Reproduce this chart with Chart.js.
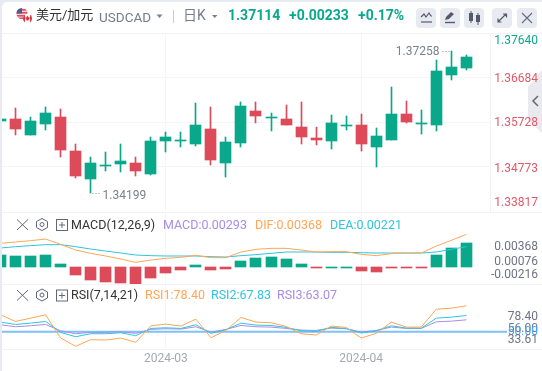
<!DOCTYPE html>
<html lang="zh">
<head>
<meta charset="utf-8">
<title>USDCAD</title>
<script src="https://cdn.jsdelivr.net/npm/chart.js@4/dist/chart.umd.min.js"></script>
<style>
html,body{margin:0;padding:0;background:#e8eaf1;width:542px;height:371px;overflow:hidden}
body{font-family:Roboto,"Noto Sans CJK SC",sans-serif;position:relative}
#card{position:absolute;left:2px;top:2px;width:542px;height:371px;background:#fff;border-top-left-radius:5px}
canvas{position:absolute;left:2px}
.t{position:absolute;white-space:nowrap;line-height:16px;height:16px}
.hl{position:absolute;left:2px;right:0;height:1px;background:#f2f3f6}
.btn{position:absolute;top:8px;width:20px;height:20px;border-radius:4px;background:#e8eaf1}
svg{position:absolute;overflow:visible}
</style>
</head>
<body>
<div id="card"></div>
<svg style="left:0;top:0" width="542" height="371">
  <path d="M542 70L528 87V120L542 133z" fill="#e9eaf0"/>
  <path d="M538 96l-5 5 5 5" fill="none" stroke="#62667a" stroke-width="1.500"/>
</svg>
<canvas id="main" width="540" height="180" style="top:33px;width:540px;height:180px"></canvas>
<canvas id="macd" width="540" height="72" style="top:212px;width:540px;height:72px"></canvas>
<canvas id="rsi" width="540" height="87" style="top:284px;width:540px;height:87px"></canvas>
<div class="hl" style="top:33px"></div>
<div class="hl" style="top:212px"></div>
<div class="hl" style="top:284px"></div>
<div class="hl" style="top:349px"></div>

<svg style="left:0;top:0" width="542" height="34">
  <defs><clipPath id="us"><circle cx="22" cy="13.5" r="5.5"/></clipPath><clipPath id="ca"><circle cx="27.5" cy="18.5" r="4.5"/></clipPath></defs>
  <g clip-path="url(#us)"><rect x="16" y="8" width="12" height="12" fill="#f3d6d8"/><rect x="16" y="9" width="12" height="1.6" fill="#d9505c"/><rect x="16" y="12" width="12" height="1.6" fill="#d9505c"/><rect x="16" y="15" width="12" height="1.6" fill="#d9505c"/><rect x="16" y="17.5" width="12" height="1.6" fill="#d9505c"/><rect x="16" y="8" width="6" height="5.5" fill="#4f5b93"/></g>
  <g clip-path="url(#ca)"><rect x="23" y="14" width="10" height="10" fill="#fff"/><rect x="23" y="14" width="2" height="10" fill="#e0323c"/><rect x="30" y="14" width="2" height="10" fill="#e0323c"/><path d="M27.5 15.5l1.2 2 1-.3-.4 2-.8.3v1h-2v-1l-.8-.3-.4-2 1 .3z" fill="#e0323c"/></g>
  <path d="M156.5 14.5h6l-3 3.5z" fill="#7b7f8e"/>
  <rect x="173" y="10" width="1" height="13" fill="#c9ccd6"/>
  <path d="M212 15h5.500l-2.750 3z" fill="#7b7f8e"/>
</svg>
<span class="t" style="left:36px;top:7px;font-size:13px;color:#333">美元/加元</span>
<span class="t" style="left:99px;top:9px;font-size:13.500px;color:#777b8c">USDCAD</span>
<span class="t" style="left:183px;top:7px;font-size:14px;color:#777b8c">日K</span>
<span class="t" style="left:228px;top:7px;font-size:14px;font-weight:700;color:#0aa88b">1.37114</span>
<span class="t" style="left:289px;top:7px;font-size:14px;font-weight:700;color:#0aa88b">+0.00233</span>
<span class="t" style="left:358px;top:7px;font-size:14px;font-weight:700;color:#0aa88b">+0.17%</span>

<div class="btn" style="left:416px"></div>
<div class="btn" style="left:440px"></div>
<div class="btn" style="left:464px"></div>
<div class="btn" style="left:492px"></div>
<div class="btn" style="left:517px"></div>
<svg style="left:0;top:0" width="542" height="34" fill="none" stroke="#555a6b">
  <path d="M421 17l3-3 2 3 3-4 2 3h1" stroke-width="1.2"/><path d="M421 22h11" stroke-width="1.2"/>
  <path d="M445 20l1-3 5-5 3 2-5 5z" fill="#555a6b" stroke="none"/><path d="M445 22.500h10" stroke-width="1.4"/>
  <g fill="#555a6b" stroke="none"><rect x="469" y="13" width="4" height="8"/><rect x="470.500" y="11" width="1" height="12"/><rect x="476" y="15" width="4" height="7"/><rect x="477.500" y="13" width="1" height="12"/></g>
  <path d="M498 22l8-8M503 14h3.500v3.500M498 18.500v3.500h3.500" stroke-width="1.2"/>
  <path d="M522 13l10 10M532 13l-10 10" stroke-width="1.2" stroke="#6a6e7e"/>
</svg>

<svg style="left:0;top:0" width="542" height="371" fill="none" stroke="#62667a" stroke-width="1">
  <path d="M17 219.500l11 10.500M28 219.500l-11 10.500"/>
  <path d="M42 218.500l5.500 3v6l-5.500 3-5.500-3v-6z"/><circle cx="42" cy="224.500" r="2"/>
  <rect x="56.500" y="219.500" width="11" height="11"/><path d="M59 225h6M62 222v6"/>
  <path d="M17 290l11 10.500M28 290l-11 10.500"/>
  <path d="M42 289l5.500 3v6l-5.500 3-5.500-3v-6z"/><circle cx="42" cy="295" r="2"/>
  <rect x="56.500" y="290" width="11" height="11"/><path d="M59 295.500h6M62 292.500v6"/>
</svg>
<span class="t" style="left:71px;top:217px;font-size:12.500px;color:#333">MACD(12,26,9)</span>
<span class="t" style="left:163px;top:217px;font-size:12.500px;color:#a98ce8">MACD:0.00293</span>
<span class="t" style="left:255px;top:217px;font-size:12.500px;color:#ffa657">DIF:0.00368</span>
<span class="t" style="left:330px;top:217px;font-size:12.500px;color:#2ec5e0">DEA:0.00221</span>
<span class="t" style="left:71px;top:287px;font-size:12.500px;color:#333">RSI(7,14,21)</span>
<span class="t" style="left:145px;top:287px;font-size:12.500px;color:#ffa657">RSI1:78.40</span>
<span class="t" style="left:211px;top:287px;font-size:12.500px;color:#2ec5e0">RSI2:67.83</span>
<span class="t" style="left:277px;top:287px;font-size:12.500px;color:#a98ce8">RSI3:63.07</span>

<script>
// Candles, index 0..31
const opens  = [1.35757,1.35793,1.35456,1.35692,1.35836,1.35105,1.34511,1.34783,1.34833,1.34847,1.34618,1.35327,1.35320,1.35263,1.35578,1.34855,1.35284,1.35965,1.35821,1.35793,1.35621,1.35385,1.35327,1.35650,1.35664,1.35198,1.35349,1.35900,1.35692,1.35671,1.36745,1.36889];
const highs  = [1.35793,1.36029,1.35836,1.36051,1.36007,1.35256,1.34977,1.35084,1.35256,1.34977,1.35406,1.35513,1.35513,1.36136,1.36051,1.35406,1.36158,1.36158,1.35922,1.36093,1.36158,1.35621,1.35879,1.35857,1.35900,1.35599,1.36480,1.36180,1.35986,1.37060,1.37258,1.37168];
const lows   = [1.35757,1.35456,1.35456,1.35564,1.34984,1.34532,1.34199,1.34676,1.34661,1.34575,1.34597,1.35091,1.35198,1.35220,1.34812,1.34554,1.35198,1.35714,1.35542,1.35664,1.35263,1.35241,1.35155,1.35564,1.35113,1.34769,1.35349,1.35714,1.35478,1.35542,1.36631,1.36845];
const closes = [1.35793,1.35585,1.35750,1.35922,1.35134,1.34575,1.34847,1.34805,1.34891,1.34683,1.35320,1.35406,1.35342,1.35664,1.34919,1.35299,1.36072,1.35864,1.35836,1.35664,1.35413,1.35349,1.35707,1.35664,1.35263,1.35428,1.35900,1.35735,1.35707,1.36824,1.36910,1.37125];

const macdHist = [0.00144,0.00136,0.00136,0.00144,0.00036,-0.00096,-0.00156,-0.00180,-0.00192,-0.00204,-0.00132,-0.00072,-0.00036,0.00024,-0.00036,-0.00020,0.00072,0.00108,0.00120,0.00096,0.00036,-0.00008,0.00006,0.00006,-0.00048,-0.00060,-0.00008,-0.00008,-0.00008,0.00144,0.00228,0.00293];
const dif = [0.00284,0.00300,0.00316,0.00336,0.00272,0.00204,0.00164,0.00132,0.00096,0.00056,0.00084,0.00104,0.00116,0.00140,0.00112,0.00112,0.00180,0.00212,0.00224,0.00224,0.00204,0.00180,0.00184,0.00184,0.00152,0.00136,0.00160,0.00168,0.00168,0.00252,0.00320,0.00392];
const dea = [0.00228,0.00244,0.00256,0.00268,0.00268,0.00244,0.00216,0.00192,0.00168,0.00144,0.00136,0.00132,0.00132,0.00132,0.00124,0.00120,0.00136,0.00148,0.00164,0.00180,0.00180,0.00180,0.00176,0.00176,0.00172,0.00168,0.00168,0.00168,0.00168,0.00180,0.00212,0.00244];

const rsi1 = [68.53,61.27,64.90,68.53,43.10,34.02,41.28,40.92,43.10,38.38,56.55,58.36,56.18,63.81,43.47,51.46,65.63,60.54,59.81,55.82,47.83,46.37,56.18,54.73,43.10,48.19,60.54,55.09,55.09,74.71,75.80,78.40];
const rsi2 = [60.54,58.00,59.45,61.27,49.28,44.56,47.83,47.83,48.92,45.65,53.64,54.36,53.64,57.63,48.19,52.19,59.45,57.27,56.91,54.73,51.10,50.37,54.73,53.64,48.55,51.10,56.55,54.00,54.00,64.90,65.99,67.83];
const rsi3 = [57.63,55.45,56.55,58.00,51.10,47.83,49.28,49.28,50.00,48.19,52.55,53.27,52.91,55.45,49.64,52.55,56.91,55.45,55.09,53.64,51.82,51.46,54.00,53.27,49.64,51.46,55.09,53.64,53.64,60.90,61.63,63.07];
const rsiRef = [50,50];

const priceTicks = [1.37640,1.36684,1.35728,1.34773,1.33817];
const macdTicks  = [0.00368,0.00076,-0.00216];
const rsiTicks   = [78.40,56.00,50.00,33.61];
const dateTicks  = [11,24];
const dateLabels = ['2024-03','2024-04'];
const highMark = {index:30,value:1.37258};
const lowMark  = {index:6,value:1.34199};

const GREEN='#0aa88b', RED='#dd4b5a', ORANGE='#ffa657', CYAN='#2ec5e0', PURPLE='#a98ce8', BLUE='#7ec1f7', GREY='#6f7385', GRID='#f4f5f8';
const XMIN=0.1, XMAX=32.57, PAD_R=52;
const idx = closes.map((_,i)=>i);
const FONT='12px Roboto, "Noto Sans CJK SC", sans-serif';

const snapBars={id:'snapBars',beforeDatasetsDraw(c){
  c.getSortedVisibleDatasetMetas().forEach(m=>{ if(m.type!=='bar')return;
    m.data.forEach(el=>{
      el.x=Math.floor(el.x)+0.5;
      let a=Math.round(el.y),b=Math.round(el.base);
      if(a===b){ b=a+1; }
      el.y=a; el.base=b;
    });
  });
}};
const axisLabels={id:'axisLabels',afterDraw(c,_,o){
  const s=c.scales.y,x=c.ctx; x.save(); x.font=FONT; x.textAlign='right'; x.textBaseline='middle';
  o.values.forEach((v,i)=>{ x.fillStyle=o.colors[i]; x.fillText(v.toFixed(o.digits),536,s.getPixelForValue(v)+o.shift[i]); });
  x.restore();
}};
const extremes={id:'extremes',afterDraw(c){
  const x=c.ctx,sx=c.scales.x,sy=c.scales.y; x.save(); x.font=FONT; x.fillStyle='#7b7f8e'; x.textBaseline='middle';
  const mark=(m,dir,dy)=>{
    const px=Math.floor(sx.getPixelForValue(m.index))+0.5,py=sy.getPixelForValue(m.value);
    x.strokeStyle='#8a8d99'; x.setLineDash([1,2]); x.lineWidth=1; x.beginPath(); x.moveTo(px+dir*2,Math.round(py)+0.5); x.lineTo(px+dir*11,Math.round(py)+0.5); x.stroke(); x.setLineDash([]);
    x.textAlign=dir>0?'left':'right'; x.fillText(m.value.toFixed(5),px+dir*12,py+dy);
  };
  mark(highMark,-1,1.5); mark(lowMark,1,3);
  x.restore();
}};

function xAxis(showLabels){
  return {type:'linear',min:XMIN,max:XMAX,offset:false,
    afterBuildTicks(s){s.ticks=dateTicks.map(v=>({value:v}));},
    afterFit(s){ if(showLabels) s.height=22; },
    grid:{color:GRID,offset:false,drawTicks:false},border:{display:false},
    ticks:{display:showLabels,padding:3,color:'#a6a9b4',font:{size:12,family:'Roboto, sans-serif'},maxRotation:0,autoSkip:false,
      callback(v){return dateLabels[dateTicks.indexOf(v)];}}};
}
const base={responsive:false,animation:false,events:[],plugins:{legend:{display:false},tooltip:{enabled:false}}};
const barX=(arr)=>arr.map((v,i)=>({x:i,y:v}));

new Chart(document.getElementById('main'),{type:'bar',
  data:{datasets:[
    {data:idx.map(i=>({x:i,y:[lows[i],highs[i]]})),backgroundColor:idx.map(i=>closes[i]>=opens[i]?GREEN:RED),barThickness:1,grouped:false},
    {data:idx.map(i=>({x:i,y:[opens[i],closes[i]]})),backgroundColor:idx.map(i=>closes[i]>=opens[i]?GREEN:RED),barThickness:11,grouped:false}
  ]},
  plugins:[snapBars,axisLabels,extremes],
  options:{...base,layout:{padding:{right:PAD_R,bottom:2}},
    plugins:{...base.plugins,axisLabels:{values:priceTicks,digits:5,colors:[GREEN,'#e05a68','#e05a68','#e05a68','#e05a68'],shift:[7.7,1.5,1.3,2.6,-8]}},
    scales:{x:xAxis(false),
      y:{position:'right',min:priceTicks[4],max:priceTicks[0],
        afterBuildTicks(s){s.ticks=priceTicks.map(v=>({value:v}));},
        grid:{drawTicks:false,color:c=>(c.index===0||c.index===4)?'transparent':GRID},
        border:{display:true,color:'#f0f1f4'},ticks:{display:false}}}}
});

new Chart(document.getElementById('macd'),{type:'bar',
  data:{datasets:[
    {type:'line',data:barX(dif),borderColor:ORANGE,borderWidth:1,pointRadius:0,tension:0,order:0},
    {type:'line',data:barX(dea),borderColor:CYAN,borderWidth:1,pointRadius:0,tension:0,order:0},
    {data:barX(macdHist),backgroundColor:macdHist.map(v=>v>=0?GREEN:RED),barThickness:11,grouped:false,order:1}
  ]},
  plugins:[snapBars,axisLabels],
  options:{...base,layout:{padding:{right:PAD_R}},
    plugins:{...base.plugins,axisLabels:{values:macdTicks,digits:5,colors:[GREY,GREY,GREY],shift:[10.4,1,-9.7]}},
    scales:{x:xAxis(false),y:{display:false,min:-0.00204,max:0.0066}}}
});

new Chart(document.getElementById('rsi'),{type:'line',
  data:{datasets:[
    {data:[{x:XMIN,y:rsiRef[0]},{x:33.7,y:rsiRef[1]}],borderColor:BLUE,borderWidth:2,pointRadius:0,clip:false,order:3},
    {data:barX(rsi3),borderColor:PURPLE,borderWidth:1,pointRadius:0,tension:0,order:2},
    {data:barX(rsi2),borderColor:CYAN,borderWidth:1,pointRadius:0,tension:0,order:1},
    {data:barX(rsi1),borderColor:ORANGE,borderWidth:1,pointRadius:0,tension:0,order:0}
  ]},
  plugins:[axisLabels],
  options:{...base,layout:{padding:{right:PAD_R}},
    plugins:{...base.plugins,axisLabels:{values:rsiTicks,digits:2,colors:[GREY,GREY,'#40a9ff',GREY],shift:[11.3,2.5,0,-6.3]}},
    scales:{x:xAxis(true),y:{display:false,min:31.1,max:102.3}}}
});
</script>
</body>
</html>
